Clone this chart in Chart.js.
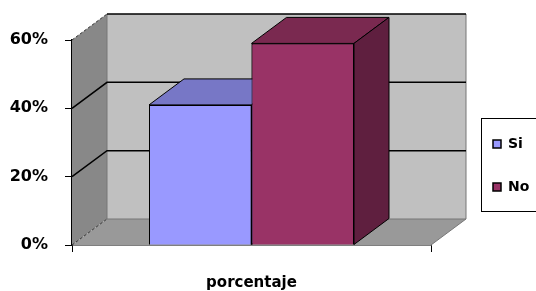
<!DOCTYPE html>
<html>
<head>
<meta charset="utf-8">
<script src="https://cdn.jsdelivr.net/npm/chart.js@4"></script>
<style>
  html, body { margin: 0; padding: 0; background: #fff; }
  canvas { display: block; }
</style>
</head>
<body>
<canvas id="chart" width="536" height="291"></canvas>
<script>
// datos del grafico
var categorias = ['porcentaje'];
var series = ['Si', 'No'];
var valoresSi = [41];
var valoresNo = [59];
var ticksY = [0, 20, 40, 60];

var coloresFrente = ['#9999FF', '#993366'];
var coloresArriba = ['#7777C6', '#7A2950'];
var coloresLado = ['#5E5EA8', '#5F1F3F'];

// profundidad del efecto 3D
var DX = 35, DY = -26;
var fuente = 'DejaVu Sans';

var fondo3d = {
    id: 'fondo3d',
    beforeDatasetsDraw: function (chart) {
        var ctx = chart.ctx;
        var a = chart.chartArea;
        var y = chart.scales.y;
        var y0 = y.getPixelForValue(0);
        var yTop = y.getPixelForValue(60);
        ctx.save();
        // pared del fondo
        ctx.fillStyle = '#C0C0C0';
        ctx.fillRect(a.left + DX, yTop + DY, a.right - a.left, y0 - yTop);
        // pared izquierda
        ctx.fillStyle = '#888888';
        ctx.beginPath();
        ctx.moveTo(a.left, yTop);
        ctx.lineTo(a.left + DX, yTop + DY);
        ctx.lineTo(a.left + DX, y0 + DY);
        ctx.lineTo(a.left, y0);
        ctx.closePath();
        ctx.fill();
        // piso
        ctx.fillStyle = '#999999';
        ctx.beginPath();
        ctx.moveTo(a.left, y0);
        ctx.lineTo(a.right, y0);
        ctx.lineTo(a.right + DX, y0 + DY);
        ctx.lineTo(a.left + DX, y0 + DY);
        ctx.closePath();
        ctx.fill();
        // bordes
        ctx.strokeStyle = '#777777';
        ctx.lineWidth = 1;
        ctx.beginPath();
        ctx.moveTo(a.right + DX, yTop + DY);
        ctx.lineTo(a.right + DX, y0 + DY);
        ctx.lineTo(a.right, y0);
        ctx.moveTo(a.left + DX, y0 + DY);
        ctx.lineTo(a.right + DX, y0 + DY);
        ctx.moveTo(a.left + DX, yTop + DY);
        ctx.lineTo(a.left + DX, y0 + DY);
        ctx.stroke();
        // lineas punteadas de la pared izquierda
        ctx.strokeStyle = '#333333';
        ctx.setLineDash([3, 2]);
        ctx.beginPath();
        ctx.moveTo(a.left, yTop);
        ctx.lineTo(a.left + DX, yTop + DY);
        ctx.moveTo(a.left, y0);
        ctx.lineTo(a.left + DX, y0 + DY);
        ctx.stroke();
        ctx.setLineDash([]);
        // lineas de division
        ctx.strokeStyle = '#000000';
        ctx.lineWidth = 1.5;
        for (var i = 0; i < ticksY.length; i++) {
            if (ticksY[i] === 0) continue;
            var py = y.getPixelForValue(ticksY[i]);
            ctx.beginPath();
            if (ticksY[i] !== 60) ctx.moveTo(a.left, py);
            else ctx.moveTo(a.left + DX, py + DY);
            ctx.lineTo(a.left + DX, py + DY);
            ctx.lineTo(a.right + DX, py + DY);
            ctx.stroke();
        }
        ctx.restore();
    },
    afterDatasetsDraw: function (chart) {
        var ctx = chart.ctx;
        ctx.save();
        // dibujar de izquierda a derecha para tapar correctamente
        for (var d = 0; d < chart.data.datasets.length; d++) {
            var meta = chart.getDatasetMeta(d);
            meta.data.forEach(function (bar) {
                var p = bar.getProps(['x', 'y', 'base', 'width'], true);
                var l = p.x - p.width / 2, r = p.x + p.width / 2;
                bar.draw(ctx);
                ctx.lineWidth = 1;
                ctx.strokeStyle = '#000000';
                // cara superior
                ctx.fillStyle = coloresArriba[d];
                ctx.beginPath();
                ctx.moveTo(l, p.y);
                ctx.lineTo(r, p.y);
                ctx.lineTo(r + DX, p.y + DY);
                ctx.lineTo(l + DX, p.y + DY);
                ctx.closePath();
                ctx.fill();
                ctx.stroke();
                // cara lateral
                ctx.fillStyle = coloresLado[d];
                ctx.beginPath();
                ctx.moveTo(r, p.y);
                ctx.lineTo(r + DX, p.y + DY);
                ctx.lineTo(r + DX, p.base + DY);
                ctx.lineTo(r, p.base);
                ctx.closePath();
                ctx.fill();
                ctx.stroke();
            });
        }
        ctx.restore();
    },
    afterDraw: function (chart) {
        var ctx = chart.ctx;
        var a = chart.chartArea;
        var lx = a.right + 50, ly = 118;
        ctx.save();
        ctx.strokeStyle = '#000000';
        ctx.lineWidth = 1;
        ctx.strokeRect(lx + 0.5, ly + 0.5, 80, 93);
        ctx.font = 'bold 14px "' + fuente + '"';
        ctx.textBaseline = 'middle';
        for (var i = 0; i < series.length; i++) {
            var cy = ly + 26 + i * 43;
            ctx.fillStyle = coloresFrente[i];
            ctx.fillRect(lx + 12, cy - 4, 8, 8);
            ctx.lineWidth = 1.5;
            ctx.strokeRect(lx + 12, cy - 4, 8, 8);
            ctx.fillStyle = '#000000';
            ctx.fillText(series[i], lx + 27, cy);
        }
        ctx.restore();
    }
};

var ctx = document.getElementById('chart').getContext('2d');

var chart = new Chart(ctx, {
    type: 'bar',
    data: {
        labels: categorias,
        datasets: [{
            label: series[0],
            data: valoresSi,
            backgroundColor: coloresFrente[0],
            borderColor: '#000000',
            borderWidth: 1
        }, {
            label: series[1],
            data: valoresNo,
            backgroundColor: coloresFrente[1],
            borderColor: '#000000',
            borderWidth: 1
        }]
    },
    options: {
        responsive: false,
        animation: false,
        categoryPercentage: 0.571,
        barPercentage: 1,
        layout: { padding: { top: 40, right: 105, left: 0, bottom: 0 } },
        plugins: {
            legend: { display: false },
            tooltip: { enabled: false }
        },
        scales: {
            x: {
                z: 1,
                afterFit: function (s) { s.height = 46; },
                grid: { drawOnChartArea: false, tickLength: 7, color: '#000000' },
                border: { color: '#000000', width: 1.5 },
                ticks: {
                    padding: 22,
                    color: '#000000',
                    font: { family: fuente, size: 15, weight: 'bold' }
                }
            },
            y: {
                z: 1,
                min: 0,
                max: 60,
                afterFit: function (s) { s.width = 72; },
                afterBuildTicks: function (s) {
                    s.ticks = ticksY.map(function (v) { return { value: v }; });
                },
                grid: { drawOnChartArea: false, tickLength: 7, color: '#000000' },
                border: { color: '#000000', width: 1.5 },
                ticks: {
                    padding: 17,
                    color: '#000000',
                    font: { family: fuente, size: 16, weight: 'bold' },
                    callback: function (v) { return v + '%'; }
                }
            }
        }
    },
    plugins: [fondo3d]
});
</script>
</body>
</html>
